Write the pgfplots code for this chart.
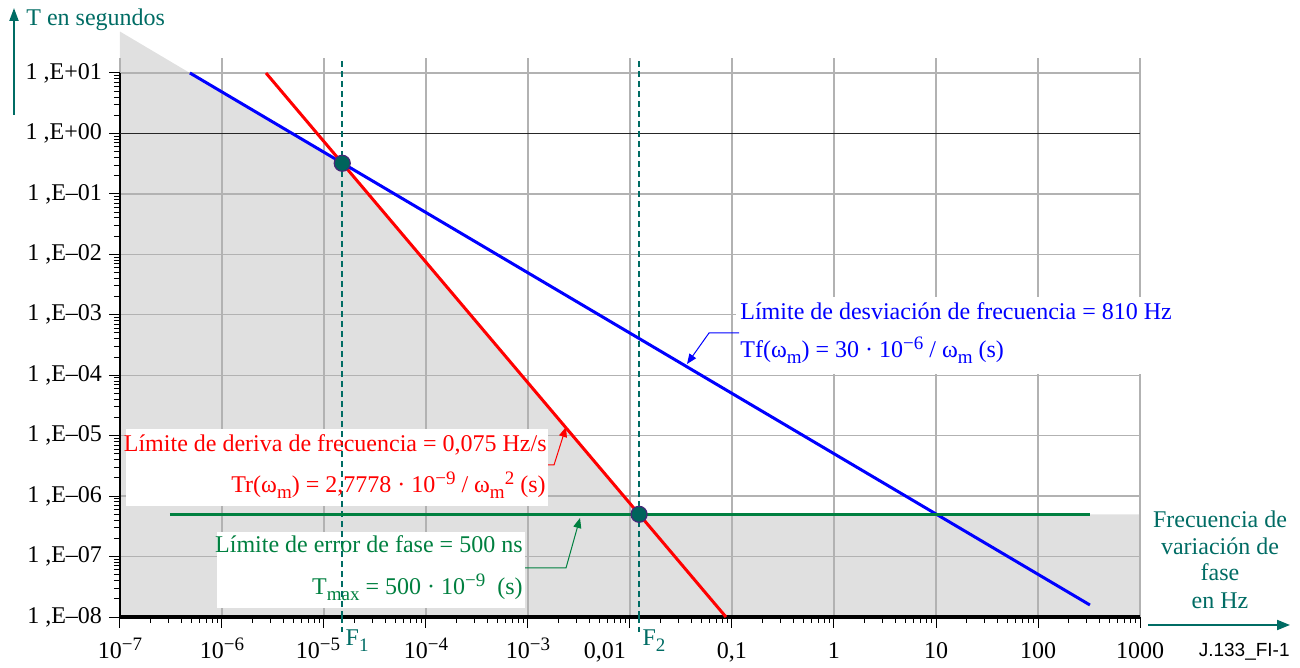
\documentclass[border=0pt]{standalone}
\usepackage{fontspec}
\setmainfont{Liberation Serif}
\newfontfamily\sansf{Liberation Sans}
\usepackage{pgfplots}
\pgfplotsset{compat=1.18}
\usetikzlibrary{arrows.meta}
\definecolor{tealc}{RGB}{0,108,100}
\definecolor{grn}{RGB}{0,128,64}
\definecolor{fillg}{RGB}{224,224,224}
\definecolor{gridg}{RGB}{178,178,178}
\definecolor{mkedge}{RGB}{70,40,120}
\definecolor{mkfill}{RGB}{0,100,92}
\newcommand\sbs[1]{\raisebox{-2.8pt}{\fontsize{9.5}{10}\selectfont #1}}
\newcommand\sps[1]{\raisebox{4.3pt}{\fontsize{9.5}{10}\selectfont #1}}
\begin{document}
\begin{tikzpicture}[font=\fontsize{12}{14}\selectfont]
\useasboundingbox (-60pt,-25.5pt) rectangle (590pt,308.5pt);
% ---- shaded region
\begin{axis}[at={(0pt,0pt)}, anchor=south west, scale only axis,
   width=510pt, height=279.5pt, xmode=log, ymode=log,
   xmin=1e-7, xmax=1000, ymin=1e-8, ymax=17.71, clip=false, hide axis]
\addplot[draw=none, fill=fillg] coordinates {(1e-7,48.5) (1.51e-5,0.321) (0.01228,5e-7) (1000,5e-7) (1000,1e-8) (1e-7,1e-8)};
\end{axis}
% ---- grid, ticks, axis lines
\begin{axis}[at={(0pt,0pt)}, anchor=south west, scale only axis,
  width=510pt, height=279.5pt, xmode=log, ymode=log,
  xmin=1e-7, xmax=1000, ymin=1e-8, ymax=17.71, clip=false,
  axis line style={draw=none},
  tick align=outside, tick pos=left,
  major tick length=5.5pt, minor tick length=3pt,
  every tick/.style={black, line width=0.5pt},
  xmajorgrids, ymajorgrids,
  major grid style={gridg, line width=0.7pt},
  xtick={1e-7,1e-6,1e-5,1e-4,1e-3,1e-2,1e-1,1,10,100,1000},
  xticklabels={{10\sps{−7}},{10\sps{−6}},{\kern-6pt10\sps{−5}},{10\sps{−4}},{10\sps{−3}},{\kern-25pt0,01},{0,1},{1},{10},{100},{1000}},
  minor xtick={2e-7,3e-7,4e-7,5e-7,6e-7,7e-7,8e-7,9e-7,
    2e-6,3e-6,4e-6,5e-6,6e-6,7e-6,8e-6,9e-6,
    2e-5,3e-5,4e-5,5e-5,6e-5,7e-5,8e-5,9e-5,
    2e-4,3e-4,4e-4,5e-4,6e-4,7e-4,8e-4,9e-4,
    2e-3,3e-3,4e-3,5e-3,6e-3,7e-3,8e-3,9e-3,
    2e-2,3e-2,4e-2,5e-2,6e-2,7e-2,8e-2,9e-2,
    2e-1,3e-1,4e-1,5e-1,6e-1,7e-1,8e-1,9e-1,
    2,3,4,5,6,7,8,9,20,30,40,50,60,70,80,90,
    200,300,400,500,600,700,800,900},
  ytick={1e-8,1e-7,1e-6,1e-5,1e-4,1e-3,1e-2,1e-1,1,10},
  yticklabels={{1 ,E–08},{1 ,E–07},{1 ,E–06},{1 ,E–05},{1 ,E–04},{1 ,E–03},{1 ,E–02},{1 ,E–01},{1 ,E+00},{1 ,E+01}},
  minor ytick={2e-8,3e-8,4e-8,5e-8,6e-8,7e-8,8e-8,9e-8,
    2e-7,3e-7,4e-7,5e-7,6e-7,7e-7,8e-7,9e-7,
    2e-6,3e-6,4e-6,5e-6,6e-6,7e-6,8e-6,9e-6,
    2e-5,3e-5,4e-5,5e-5,6e-5,7e-5,8e-5,9e-5,
    2e-4,3e-4,4e-4,5e-4,6e-4,7e-4,8e-4,9e-4,
    2e-3,3e-3,4e-3,5e-3,6e-3,7e-3,8e-3,9e-3,
    2e-2,3e-2,4e-2,5e-2,6e-2,7e-2,8e-2,9e-2,
    2e-1,3e-1,4e-1,5e-1,6e-1,7e-1,8e-1,9e-1,
    2,3,4,5,6,7,8,9},
  tick label style={font=\fontsize{12}{14}\selectfont, black},
  yticklabel style={anchor=east},
  xticklabel style={anchor=base, yshift=-15.5pt},
]
\draw[black, line width=0.6pt] (axis cs:1e-7,1e-8) -- (axis cs:1e-7,10);
\draw[black!85, line width=0.9pt] (axis cs:1e-7,1) -- (axis cs:1000,1);
\draw[black, line width=2pt] (axis cs:1e-7,1e-8) -- (axis cs:1000,1e-8);
\end{axis}
% ---- white label boxes
\fill[white] (3pt,55.5pt) rectangle (214pt,94pt);
\fill[white] (48.5pt,4.5pt) rectangle (202.5pt,42.5pt);
\fill[white] (308pt,121.5pt) rectangle (527.5pt,160pt);
% ---- data
\begin{axis}[at={(0pt,0pt)}, anchor=south west, scale only axis,
   width=510pt, height=279.5pt, xmode=log, ymode=log,
   xmin=1e-7, xmax=1000, ymin=1e-8, ymax=17.71, clip=false, hide axis]
\addplot[tealc, line width=0.8pt, dash pattern=on 3pt off 2pt] coordinates {(1.51e-5,1e-8) (1.51e-5,17.71)};
\addplot[tealc, line width=0.8pt, dash pattern=on 3pt off 2pt] coordinates {(0.01228,1e-8) (0.01228,17.71)};
\addplot[blue, line width=1.5pt] coordinates {(4.85e-7,10) (323,1.58e-8)};
\addplot[red, line width=1.5pt] coordinates {(2.70e-6,10) (0.0873,1e-8)};
\addplot[grn, line width=1.5pt] coordinates {(3.09e-7,5e-7) (323,5e-7)};
\addplot[only marks, mark=*, mark size=4pt, mark options={fill=mkfill, draw=mkedge, line width=0.6pt}] coordinates {(1.51e-5,0.321) (0.01228,5e-7)};
\coordinate (F1b) at (axis cs:1.51e-5,1e-8);
\coordinate (F2b) at (axis cs:0.01228,1e-8);
\end{axis}
\draw[tealc, line width=0.8pt, dash pattern=on 3pt off 2pt] (F1b) -- ++(0,-7.5pt);
\draw[tealc, line width=0.8pt, dash pattern=on 3pt off 2pt] (F2b) -- ++(0,-7.5pt);
\node[tealc, anchor=base west, inner sep=0pt] at ([xshift=1.5pt,yshift=-14.5pt]F1b) {F\sbs{1}};
\node[tealc, anchor=base west, inner sep=0pt] at ([xshift=1.5pt,yshift=-14.5pt]F2b) {F\sbs{2}};
% ---- labels
\node[red, anchor=base east, inner sep=0pt] at (213.5pt,82.5pt) {Límite de deriva de frecuencia = 0,075 Hz/s};
\node[red, anchor=base east, inner sep=0pt] at (213pt,62pt) {Tr(ω\sbs{m}) = 2,7778 · 10\sps{−9} / ω\sbs{m}\sps{2} (s)};
\draw[red, line width=0.5pt, -{Triangle[length=5pt,width=4pt]}] (214pt,76pt) -- (217pt,76pt) -- (223pt,95pt);
\node[grn, anchor=base east, inner sep=0pt] at (201.5pt,32pt) {Límite de error de fase = 500 ns};
\node[grn, anchor=base east, inner sep=0pt] at (201.5pt,11pt) {T\sbs{max} = 500 · 10\sps{−9}\ \ (s)};
\draw[grn, line width=0.5pt, -{Triangle[length=5pt,width=4pt]}] (202.5pt,24.5pt) -- (223pt,24.5pt) -- (230pt,49.5pt);
\node[blue, anchor=base west, inner sep=0pt] at (310pt,148.5pt) {Límite de desviación de frecuencia = 810 Hz};
\node[blue, anchor=base west, inner sep=0pt] at (310pt,129.5pt) {Tf(ω\sbs{m}) = 30 · 10\sps{−6} / ω\sbs{m} (s)};
\draw[blue, line width=0.5pt, -{Triangle[length=5pt,width=4pt]}] (309.5pt,142pt) -- (294.5pt,142pt) -- (283.5pt,126.5pt);
% ---- axis titles
\draw[tealc, line width=1pt, -{Triangle[length=6.5pt,width=4.5pt]}] (-53pt,251pt) -- (-53pt,304.5pt);
\node[tealc, anchor=base west, inner sep=0pt] at (-47pt,295.5pt) {T en segundos};
\draw[tealc, line width=1pt, -{Triangle[length=6.5pt,width=5pt]}] (514pt,-4pt) -- (585pt,-4pt);
\node[tealc, anchor=base, inner sep=0pt] at (550pt,44.5pt) {Frecuencia de};
\node[tealc, anchor=base, inner sep=0pt] at (550pt,31pt) {variación de};
\node[tealc, anchor=base, inner sep=0pt] at (550pt,18pt) {fase};
\node[tealc, anchor=base, inner sep=0pt] at (550pt,4pt) {en Hz};
\node[black, anchor=base east, inner sep=0pt, font=\sansf\fontsize{9.5}{11}\selectfont] at (585pt,-20pt) {J.133\_FI-1};
\end{tikzpicture}
\end{document}
